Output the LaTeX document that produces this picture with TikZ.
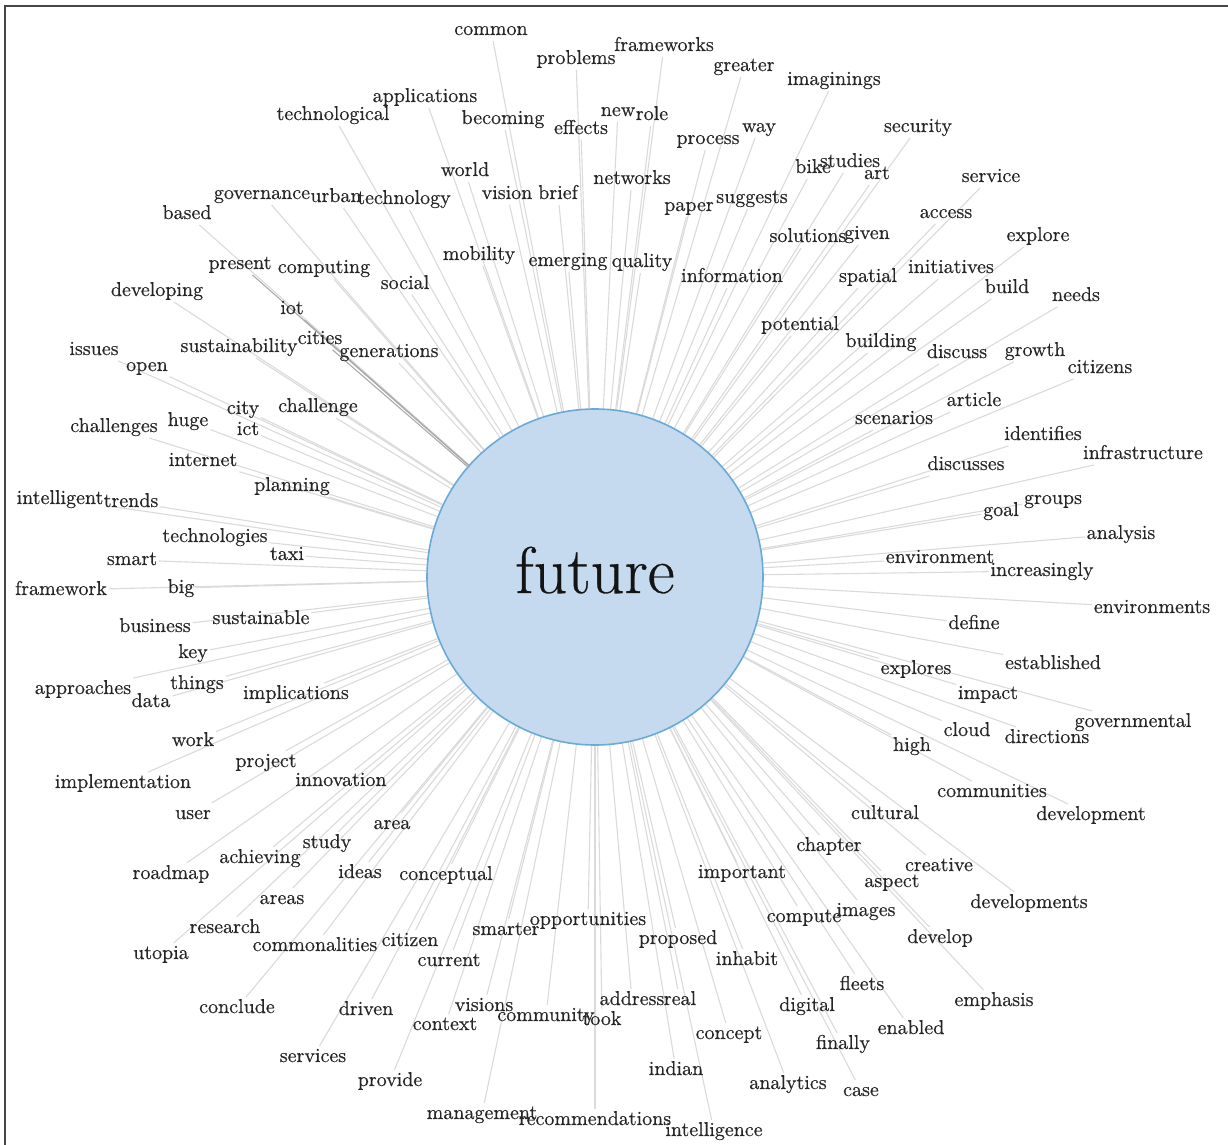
\documentclass[tikz,border=0pt]{standalone}
\usepackage{fontspec}
\newfontfamily\wfont{Latin Modern Roman}[FakeBold=0.45]
\usetikzlibrary{backgrounds}
\definecolor{circfill}{HTML}{C5DAEF}
\definecolor{circline}{HTML}{6AAAD6}
\definecolor{wordcol}{HTML}{262626}
\definecolor{edgecol}{HTML}{DADADA}
\definecolor{edgedark}{HTML}{ABABAB}
\tikzset{
  word/.style={text=wordcol, font=\wfont\fontsize{10}{12}\selectfont, inner sep=0.8pt, text height=7pt, text depth=2pt},
  edge/.style={draw=edgecol, line width=0.55pt},
  edgestrong/.style={draw=edgedark, line width=0.55pt},
  hub/.style={circle, fill=circfill, draw=circline, line width=0.8pt, minimum size=168pt, inner sep=0pt},
  frameline/.style={draw=black!72, line width=1.1pt}
}
\newcommand\wrd[4]{\node[word] (w-#1) at (#2,#3) {#4};
  \begin{pgfonlayer}{background}\draw[edge] (c) -- (w-#1);\end{pgfonlayer}}
\newcommand\wrdd[4]{\node[word] (w-#1) at (#2,#3) {#4};
  \begin{pgfonlayer}{background}\draw[edgestrong] (c) -- (w-#1);\end{pgfonlayer}}
\begin{document}
\begin{tikzpicture}[x=0.5pt,y=-0.5pt]
\useasboundingbox (0,0) rectangle (1228,1145);
\coordinate (fr-tl) at (5,6);
\coordinate (fr-tr) at (1228,6);
\coordinate (fr-bl) at (5,1145);
\draw[frameline] (fr-tr) -- (fr-tl) -- (fr-bl);
\node[hub] (c) at (595,577) {\raisebox{-8pt}[0pt][0pt]{\wfont\fontsize{33}{38}\selectfont\color{black!92}future}};
% top
\wrd{common}{491}{30}{common}
\wrd{problems}{576}{59}{problems}
\wrd{frameworks}{664}{46}{frameworks}
\wrd{greater}{744}{66}{greater}
\wrd{imaginings}{834}{80}{imaginings}
\wrd{applications}{425}{97}{applications}
\wrd{technological}{333}{115}{technological}
\wrd{becoming}{503}{119}{becoming}
\wrd{effects}{581}{129}{effects}
\wrd{new}{618}{111}{new}
\wrd{role}{652}{115}{role}
\wrd{process}{708}{139}{process}
\wrd{way}{759}{127}{way}
\wrd{security}{918}{127}{security}
\wrd{bike}{813}{168}{bike}
\wrd{studies}{850}{162}{studies}
\wrd{art}{877}{174}{art}
\wrd{service}{991}{177}{service}
\wrd{world}{465}{171}{world}
\wrd{vision}{507}{194}{vision}
\wrd{brief}{558}{194}{brief}
\wrd{networks}{632}{179}{networks}
\wrd{governance}{262}{194}{governance}
\wrd{urban}{336}{197}{urban}
\wrd{technology}{404}{199}{technology}
\wrd{based}{187}{214}{based}
\wrd{paper}{689}{206}{paper}
\wrd{suggests}{752}{198}{suggests}
\wrd{access}{946}{213}{access}
\wrd{solutions}{808}{237}{solutions}
\wrd{given}{867}{234}{given}
\wrd{explore}{1038}{236}{explore}
\wrdd{present}{240}{264}{present}
\wrd{computing}{324}{268}{computing}
\wrd{social}{405}{284}{social}
\wrd{mobility}{479}{255}{mobility}
\wrd{emerging}{568}{261}{emerging}
\wrd{quality}{642}{262}{quality}
\wrd{information}{732}{277}{information}
\wrd{spatial}{868}{277}{spatial}
\wrd{initiatives}{951}{268}{initiatives}
\wrd{build}{1007}{288}{build}
\wrd{needs}{1076}{296}{needs}
\wrd{developing}{157}{291}{developing}
\wrdd{iot}{292}{309}{iot}
\wrd{potential}{800}{325}{potential}
\wrd{building}{881}{342}{building}
\wrd{discuss}{957}{353}{discuss}
\wrd{growth}{1035}{351}{growth}
\wrd{citizens}{1100}{368}{citizens}
\wrd{issues}{94}{350}{issues}
\wrd{open}{147}{366}{open}
\wrd{sustainability}{239}{347}{sustainability}
\wrdd{cities}{320}{339}{cities}
\wrd{generations}{389}{352}{generations}
% middle left
\wrd{city}{243}{409}{city}
\wrd{ict}{248}{430}{ict}
\wrd{challenge}{318}{407}{challenge}
\wrd{challenges}{114}{427}{challenges}
\wrd{huge}{188}{421}{huge}
\wrd{internet}{203}{461}{internet}
\wrd{planning}{292}{486}{planning}
\wrd{intelligent}{60}{499}{intelligent}
\wrd{trends}{131}{502}{trends}
\wrd{technologies}{215}{537}{technologies}
\wrd{smart}{132}{560}{smart}
\wrd{taxi}{287}{555}{taxi}
\wrd{framework}{61}{590}{framework}
\wrd{big}{181}{588}{big}
\wrd{business}{155}{627}{business}
\wrd{sustainable}{261}{619}{sustainable}
\wrd{key}{193}{653}{key}
\wrd{approaches}{83}{689}{approaches}
\wrd{data}{151}{702}{data}
\wrd{things}{197}{684}{things}
\wrd{implications}{296}{694}{implications}
\wrd{work}{193}{741}{work}
\wrd{project}{266}{762}{project}
% middle right
\wrd{scenarios}{894}{419}{scenarios}
\wrd{article}{974}{401}{article}
\wrd{identifies}{1043}{435}{identifies}
\wrd{infrastructure}{1143}{454}{infrastructure}
\wrd{discusses}{966}{465}{discusses}
\wrd{goal}{1001}{511}{goal}
\wrd{groups}{1053}{499}{groups}
\wrd{analysis}{1121}{534}{analysis}
\wrd{environment}{940}{558}{environment}
\wrd{increasingly}{1042}{571}{increasingly}
\wrd{environments}{1152}{608}{environments}
\wrd{define}{974}{624}{define}
\wrd{explores}{916}{669}{explores}
\wrd{established}{1053}{664}{established}
\wrd{impact}{988}{694}{impact}
\wrd{governmental}{1133}{722}{governmental}
\wrd{cloud}{967}{731}{cloud}
\wrd{directions}{1047}{738}{directions}
\wrd{high}{912}{746}{high}
% bottom left
\wrd{implementation}{123}{783}{implementation}
\wrd{innovation}{341}{781}{innovation}
\wrd{user}{193}{814}{user}
\wrd{area}{392}{824}{area}
\wrd{study}{327}{843}{study}
\wrd{achieving}{260}{858}{achieving}
\wrd{roadmap}{171}{874}{roadmap}
\wrd{ideas}{360}{873}{ideas}
\wrd{conceptual}{446}{875}{conceptual}
\wrd{areas}{282}{899}{areas}
\wrd{research}{225}{928}{research}
\wrd{utopia}{161}{954}{utopia}
\wrd{commonalities}{315}{946}{commonalities}
\wrd{citizen}{410}{941}{citizen}
\wrd{current}{449}{961}{current}
\wrd{conclude}{237}{1008}{conclude}
\wrd{driven}{366}{1010}{driven}
\wrd{services}{313}{1057}{services}
\wrd{provide}{390}{1081}{provide}
\wrd{management}{482}{1114}{management}
% bottom middle
\wrd{opportunities}{588}{920}{opportunities}
\wrd{smarter}{506}{930}{smarter}
\wrd{proposed}{678}{939}{proposed}
\wrd{important}{742}{873}{important}
\wrd{inhabit}{747}{960}{inhabit}
\wrd{visions}{484}{1006}{visions}
\wrd{context}{445}{1025}{context}
\wrd{community}{546}{1016}{community}
\wrd{took}{602}{1020}{took}
\wrd{address}{632}{1000}{address}
\wrd{real}{680}{1000}{real}
\wrd{concept}{729}{1034}{concept}
\wrd{indian}{676}{1070}{indian}
\wrd{analytics}{788}{1084}{analytics}
\wrd{recommendations}{595}{1120}{recommendations}
\wrd{intelligence}{714}{1131}{intelligence}
% bottom right
\wrd{chapter}{829}{846}{chapter}
\wrd{compute}{804}{917}{compute}
\wrd{digital}{807}{1006}{digital}
\wrd{communities}{992}{792}{communities}
\wrd{cultural}{885}{814}{cultural}
\wrd{development}{1091}{815}{development}
\wrd{creative}{939}{866}{creative}
\wrd{aspect}{892}{882}{aspect}
\wrd{images}{866}{911}{images}
\wrd{developments}{1029}{903}{developments}
\wrd{develop}{940}{938}{develop}
\wrd{fleets}{862}{985}{fleets}
\wrd{emphasis}{994}{1001}{emphasis}
\wrd{enabled}{911}{1029}{enabled}
\wrd{finally}{843}{1044}{finally}
\wrd{case}{861}{1091}{case}
\end{tikzpicture}
\end{document}
